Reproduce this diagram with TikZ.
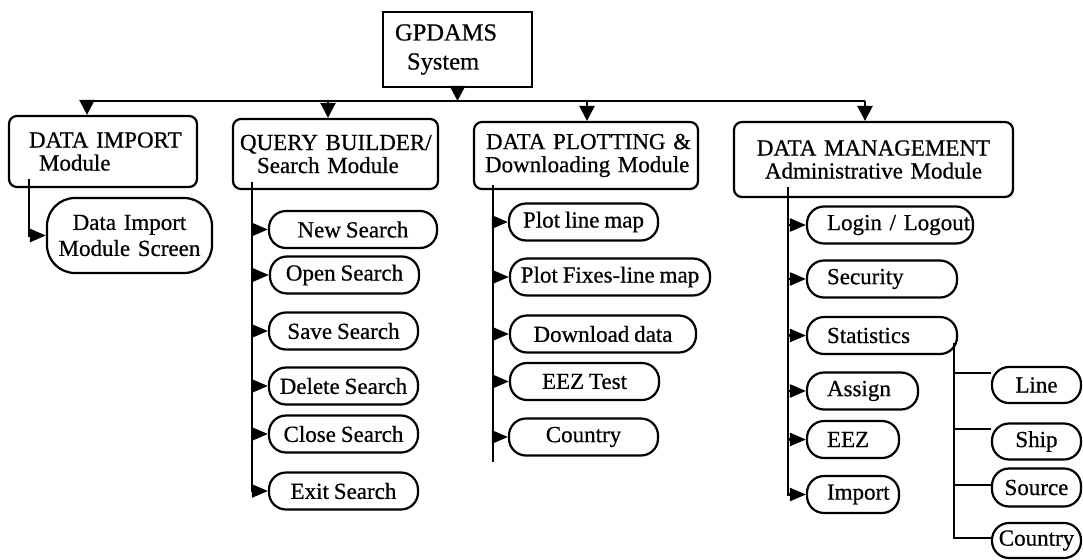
\documentclass[tikz,border=0pt]{standalone}
\usepackage{fontspec}
\setmainfont{Liberation Serif}[FakeBold=0.6,WordSpace=0.85]
\usetikzlibrary{arrows.meta}
\newcommand\myhs[1]{\hspace*{#1pt}}
\begin{document}
\begin{tikzpicture}[x=1pt,y=-1pt,
  box/.style={draw, line width=2.2pt, rounded corners=8pt, inner sep=0pt, font=\fontsize{23}{23}\selectfont},
  pill/.style={draw, line width=2.2pt, rounded corners=17pt, inner sep=0pt, minimum height=37pt, font=\fontsize{23}{23}\selectfont},
  conn/.style={line width=2.5pt},
  darr/.style={conn, -{Triangle[length=15pt,width=15pt]}},
  rarr/.style={conn, -{Triangle[length=16pt,width=13pt]}},
]
\useasboundingbox[fill=white] (0,0) rectangle (1083,559);

% top
\node[draw, line width=2.2pt, inner sep=0pt, text width=149pt, minimum height=75pt, align=left,
      font=\fontsize{24.5}{29}\selectfont] (gp) at (457.5,49.5) {\myhs{12}GPDAMS\\\myhs{24}System};

% modules
\node[box, text width=188pt, minimum height=71pt, align=left] (imp) at (103,151.5) {\myhs{20}DATA IMPORT\\\myhs{30}Module};
\node[box, text width=205pt, minimum height=70pt, align=left] (qb) at (335.5,154) {\myhs{7}QUERY BUILDER/\\\myhs{24}Search Module};
\node[box, text width=224pt, minimum height=67pt, align=left] (dp) at (586,155.5) {\myhs{12}DATA PLOTTING \&\\\myhs{11}Downloading Module};
\node[box, text width=279pt, minimum height=75pt, align=center] (dm) at (873.5,159.5) {DATA MANAGEMENT\\Administrative Module};

% import child
\node[box, rounded corners=28pt, text width=165pt, minimum height=75pt, align=center,
      font=\fontsize{23}{26}\selectfont] (impc) at (129.5,235.5) {Data Import\\Module Screen};

% query builder children
\node[pill, minimum width=168pt] (q1) at (353,229.5) {New Search};
\node[pill, minimum width=149pt] (q2) at (344.5,275) {Open Search};
\node[pill, minimum width=149pt] (q3) at (343.5,331) {Save Search};
\node[pill, minimum width=149pt] (q4) at (343.5,386) {Delete Search};
\node[pill, minimum width=149pt] (q5) at (343.5,434) {Close Search};
\node[pill, minimum width=149pt] (q6) at (343.5,491) {Exit Search};

% plotting children
\node[pill, minimum width=149pt] (d1) at (583.5,222) {Plot line map};
\node[pill, minimum width=200pt] (d2) at (610,277) {Plot Fixes-line map};
\node[pill, minimum width=186pt] (d3) at (603,334) {Download data};
\node[pill, minimum width=149pt] (d4) at (584.5,381.5) {EEZ Test};
\node[pill, minimum width=149pt] (d5) at (583.5,437) {Country};

% management children
\node[pill, text width=166pt, align=left] (m1) at (890,225) {\myhs{20}Login / Logout};
\node[pill, text width=150pt, align=left] (m2) at (882,279) {\myhs{20}Security};
\node[pill, text width=150pt, align=left] (m3) at (882,335.5) {\myhs{20}Statistics};
\node[pill, text width=111pt, align=left] (m4) at (862.5,391) {\myhs{20}Assign};
\node[pill, text width=92pt, align=left] (m5) at (853,439.5) {\myhs{20}EEZ};
\node[pill, text width=92pt, align=left] (m6) at (853,494.5) {\myhs{20}Import};

% statistics children
\node[pill, minimum width=89pt, minimum height=36pt] (s1) at (1036.5,385) {Line};
\node[pill, minimum width=89pt, minimum height=36pt] (s2) at (1036.5,441.5) {Ship};
\node[pill, minimum width=89pt, minimum height=38pt] (s3) at (1036.5,487.5) {Source};
\node[pill, minimum width=89pt, minimum height=35pt] (s4) at (1036.5,540.5) {Country};

% bus
\coordinate (b1) at (87,101);
\coordinate (b2) at (328,101);
\coordinate (b3) at (587,101);
\coordinate (b4) at (865,101);
\draw[conn] (b1) -- (b4);
\draw[darr] (gp.south) -- (gp.south |- b1);
\draw[darr] (b1) -- (b1 |- imp.north);
\draw[darr] (b2) -- (b2 |- qb.north);
\draw[darr] (b3) -- (b3 |- dp.north);
\draw[darr] (b4) -- (b4 |- dm.north);

% import trunk
\coordinate (it) at (29,179);
\draw[rarr] (it) |- (impc.west);

% query trunk
\coordinate (qt) at (252,182);
\draw[rarr] (qt) |- (q6.west);
\foreach \n in {q1,q2,q3,q4,q5} \draw[rarr] (qt |- \n.west) -- (\n.west);

% plotting trunk
\coordinate (dt) at (493,185);
\coordinate (de) at (493,462);
\draw[conn] (dt) -- (de);
\foreach \n in {d1,d2,d3,d4,d5} \draw[rarr] (dt |- \n.west) -- (\n.west);

% management trunk
\coordinate (mt) at (788,187);
\draw[rarr] (mt) |- (m6.west);
\foreach \n in {m1,m2,m3,m4,m5} \draw[rarr] (mt |- \n.west) -- (\n.west);

% statistics branch
\coordinate (st) at (954,343);
\coordinate (s1a) at ([yshift=12pt]s1.west);
\coordinate (s2a) at ([yshift=12.5pt]s2.west);
\coordinate (s3a) at ([yshift=2.5pt]s3.west);
\coordinate (s4a) at ([yshift=2.5pt]s4.west);
\draw[conn] (st) |- (s4a);
\draw[conn] (st |- s1a) -- (s1a);
\draw[conn] (st |- s2a) -- (s2a);
\draw[conn] (st |- s3a) -- (s3a);
\end{tikzpicture}
\end{document}
